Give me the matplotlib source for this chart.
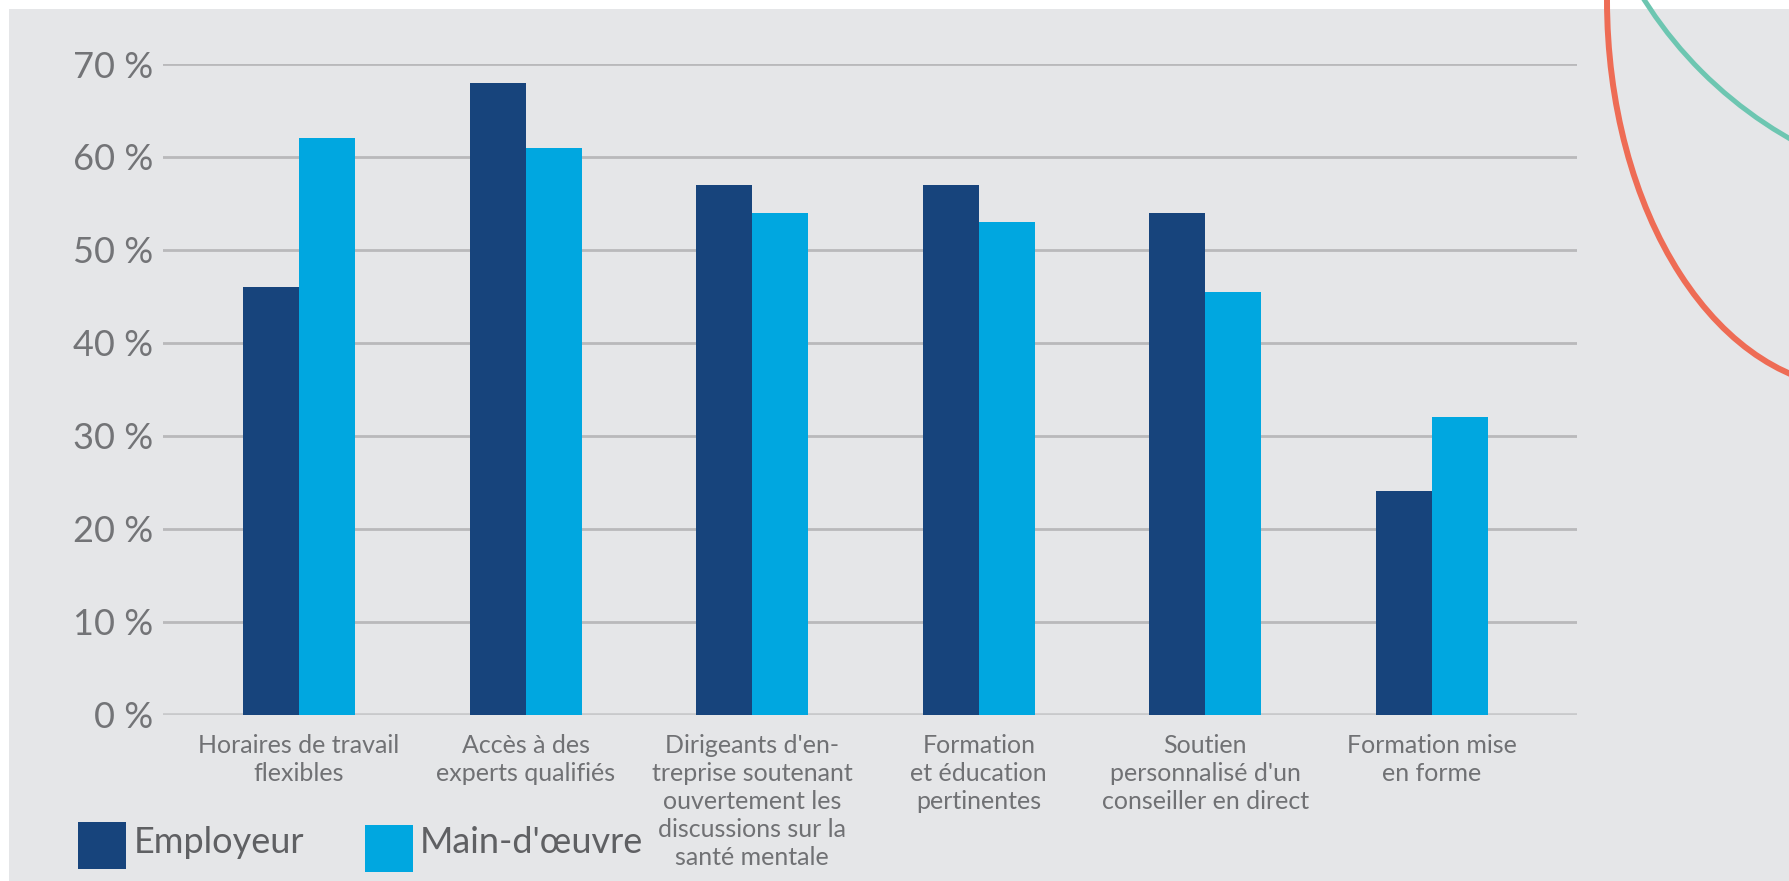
import numpy as np
import matplotlib.pyplot as plt
from matplotlib.patches import Rectangle, Ellipse, Circle


# Données
categories = [
    "Horaires de travail\nflexibles",
    "Accès à des\nexperts qualifiés",
    "Dirigeants d'en-\ntreprise soutenant\nouvertement les\ndiscussions sur la\nsanté mentale",
    "Formation\net éducation\npertinentes",
    "Soutien\npersonnalisé d'un\nconseiller en direct",
    "Formation mise\nen forme",
]
series_names = ["Employeur", "Main-d'œuvre"]
employeur = [46, 68, 57, 57, 54, 24]
main_oeuvre = [62, 61, 54, 53, 45.5, 32]
y_ticks = [0, 10, 20, 30, 40, 50, 60, 70]
y_labels = [f"{v} %" for v in y_ticks]

DARK = "#17447c"
LIGHT = "#00a7e0"
BG = "#e5e6e8"
TXT = "#707174"
W, H = 1790, 881


def main() -> None:
    plt.rcParams["font.family"] = ["Lato", "DejaVu Sans"]
    fig = plt.figure(figsize=(W / 100, H / 100), dpi=100, facecolor="white")

    # fond gris + calque en pixels pour les décorations
    deco = fig.add_axes([0, 0, 1, 1], zorder=0)
    deco.set_xlim(0, W)
    deco.set_ylim(H, 0)
    deco.axis("off")
    deco.add_patch(Rectangle((9, 9), W, H, color=BG, lw=0))

    ax = fig.add_axes([163 / W, (H - 714.5) / H, (1577 - 163) / W, 650.5 / H], zorder=1)
    ax.set_facecolor("none")

    x = np.arange(len(categories))
    bw = 0.247
    ax.bar(x - bw / 2, employeur, bw, color=DARK, zorder=3)
    ax.bar(x + bw / 2, main_oeuvre, bw, color=LIGHT, zorder=3)
    ax.axhline(0, color="#c8c9cb", lw=3.4, zorder=2)

    ax.set_xlim(-0.60, len(categories) - 1 + 0.64)
    ax.set_ylim(0, 70)
    ax.set_yticks(y_ticks, y_labels)
    ax.set_xticks(x, categories)
    ax.yaxis.grid(True, color="#b9b9bb", lw=2.0, zorder=1)
    ax.set_axisbelow(True)
    for s in ax.spines.values():
        s.set_visible(False)
    ax.tick_params(axis="y", length=0, pad=7, labelsize=26, labelcolor="#737477")
    ax.tick_params(axis="x", length=0, pad=14, labelsize=18, labelcolor=TXT)
    for lbl in ax.get_xticklabels():
        lbl.set_linespacing(1.27)
        lbl.set_va("top")

    # légende
    over = fig.add_axes([0, 0, 1, 1], zorder=2)
    over.set_xlim(0, W)
    over.set_ylim(H, 0)
    over.axis("off")
    over.add_patch(Rectangle((78, 822), 48, 47, color=DARK, lw=0))
    over.add_patch(Rectangle((365, 825), 48, 47, color=LIGHT, lw=0))
    over.text(134, 853, series_names[0], fontsize=26, color="#5f6063", va="baseline")
    over.text(420, 853, series_names[1], fontsize=26, color="#5f6063", va="baseline")

    # arcs décoratifs
    over.add_patch(Ellipse((1857, 0), 500, 776, fill=False, ec="#ee6c55", lw=4.3))
    over.add_patch(Circle((1995, -222), 415, fill=False, ec="#6dc6b1", lw=3.6))

    fig.savefig("out.png", dpi=100, facecolor="white")


if __name__ == "__main__":
    main()
